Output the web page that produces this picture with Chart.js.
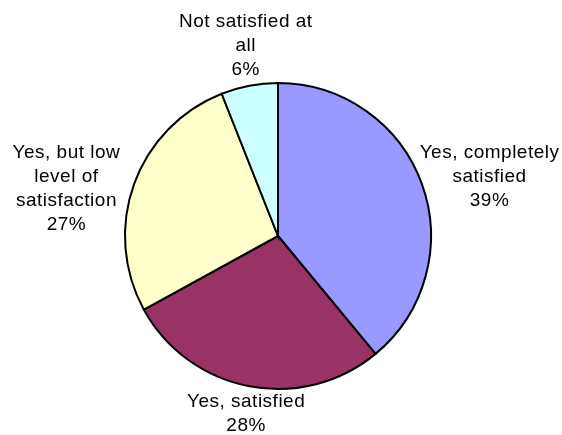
<!DOCTYPE html>
<html>
<head>
<meta charset="utf-8">
<script src="https://cdn.jsdelivr.net/npm/chart.js@4/dist/chart.umd.min.js"></script>
<style>
  html, body { margin: 0; padding: 0; background: #ffffff; }
  #wrap { width: 562px; height: 435px; position: relative; }
</style>
</head>
<body>
<div id="wrap"><canvas id="c" width="562" height="435"></canvas></div>
<script>
// ---- data ----
const categories = [
  ["Yes, completely", "satisfied"],
  ["Yes, satisfied"],
  ["Yes, but low", "level of", "satisfaction"],
  ["Not satisfied at", "all"]
];
const shares = [39, 28, 27, 6];
const sliceColors = ["#9999FF", "#993366", "#FFFFCC", "#CCFFFF"];

const FONT = '19px "Liberation Sans", Arial, sans-serif';
const LINE_H = 24;
const ASC = 17;        // baseline offset inside a line box
const WRAP_W = 140;    // width of a wrapped label box

const outsideLabels = {
  id: 'outsideLabels',
  afterDatasetsDraw(chart) {
    const ctx = chart.ctx;
    const meta = chart.getDatasetMeta(0);
    const data = chart.data.datasets[0].data;
    const total = data.reduce((a, b) => a + b, 0);
    ctx.save();
    ctx.font = FONT;
    try { ctx.letterSpacing = '0.5px'; } catch (e) {}
    ctx.fillStyle = '#000';
    ctx.textAlign = 'center';
    ctx.textBaseline = 'alphabetic';
    meta.data.forEach((arc, i) => {
      const p = arc.getProps(['x', 'y', 'startAngle', 'endAngle', 'outerRadius'], true);
      const mid = (p.startAngle + p.endAngle) / 2;
      const dx = Math.cos(mid), dy = Math.sin(mid);
      const cat = chart.data.labels[i];
      const lines = cat.concat([Math.round(data[i] / total * 100) + '%']);
      let w = Math.max(...lines.map(l => ctx.measureText(l).width));
      if (cat.length > 1) w = Math.max(w, WRAP_W);
      const h = lines.length * LINE_H;
      const r = p.outerRadius + 6;
      const ax = p.x + dx * r, ay = p.y + dy * r;
      const cx = ax + (w / 2) * dx * Math.abs(dx);
      let top;
      if (dy > 0.7) top = ay - 2;
      else if (dy < -0.7) top = ay - h + 2;
      else top = ay - LINE_H - ASC;
      lines.forEach((l, k) => {
        ctx.fillText(l, cx, top + LINE_H * k + ASC);
      });
    });
    ctx.restore();
  }
};

new Chart(document.getElementById('c'), {
  type: 'pie',
  data: {
    labels: categories,
    datasets: [{
      data: shares,
      backgroundColor: sliceColors,
      borderColor: '#000000',
      borderWidth: 2,
      borderJoinStyle: 'miter'
    }]
  },
  options: {
    responsive: false,
    animation: false,
    radius: 153,
    layout: { padding: { left: 0, right: 6, top: 37, bottom: 0 } },
    plugins: {
      legend: { display: false },
      tooltip: { enabled: false }
    }
  },
  plugins: [outsideLabels]
});
</script>
</body>
</html>
